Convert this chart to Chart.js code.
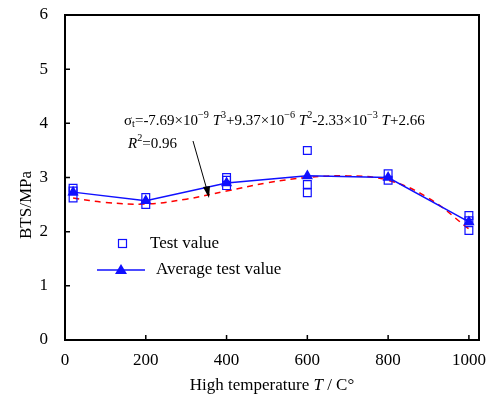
<!DOCTYPE html>
<html>
<head>
<meta charset="utf-8">
<script src="https://cdn.jsdelivr.net/npm/chart.js@4.4.1/dist/chart.umd.min.js"></script>
<style>
  body { margin: 0; background: #fff; }
  #wrap { width: 497px; height: 403px; }
</style>
</head>
<body>
<div id="wrap"><canvas id="myChart" width="497" height="403"></canvas></div>
<script>
// test values (scatter)
let testT = [20, 20, 20, 200, 200, 400, 400, 400, 600, 600, 600, 800, 800, 1000, 1000, 1000];
let testVal = [2.8, 2.75, 2.62, 2.63, 2.5, 3.0, 2.95, 2.85, 3.5, 2.87, 2.72, 3.07, 2.95, 2.3, 2.2, 2.02];

// averages
let avgT = [20, 200, 400, 600, 800, 1000];
let avgVal = [2.73, 2.57, 2.9, 3.03, 3.0, 2.18];

// fitted curve (red dashed)
let fitT = [20, 100, 200, 300, 400, 500, 600, 700, 800, 900, 1000];
let fitVal = [2.62, 2.54, 2.51, 2.6, 2.75, 2.9, 3.0, 3.03, 2.95, 2.62, 2.05];

let xTicks = [0, 200, 400, 600, 800, 1000];
let yTicks = [0, 1, 2, 3, 4, 5, 6];

const blue = '#1010ff';
const serif = "'Liberation Serif', 'DejaVu Serif', serif";

function toXY(xs, ys) {
    return xs.map((x, i) => ({ x: x, y: ys[i] }));
}

// draw text made of pieces (italic, sup, sub)
function richText(c, runs, x, y, size) {
    let cx = x;
    runs.forEach(r => {
        let s = r.sup || r.sub ? size * 0.68 : size;
        c.font = `${r.it ? 'italic ' : ''}${s}px ${serif}`;
        let dy = r.sup ? -size * 0.4 : (r.sub ? size * 0.25 : 0);
        c.fillText(r.t, cx, y + dy);
        cx += c.measureText(r.t).width;
    });
}

const extras = {
    id: 'extras',
    afterDraw(chart) {
        let c = chart.ctx;
        let a = chart.chartArea;
        let xs = chart.scales.x;
        let ys = chart.scales.y;
        c.save();
        c.strokeStyle = '#000';
        c.lineWidth = 2;
        c.strokeRect(a.left, a.top, a.right - a.left, a.bottom - a.top);

        // inward ticks
        c.lineWidth = 1.5;
        c.beginPath();
        yTicks.forEach(v => {
            let p = ys.getPixelForValue(v);
            c.moveTo(a.left, p);
            c.lineTo(a.left + 5, p);
        });
        xTicks.forEach(v => {
            let p = xs.getPixelForValue(v);
            c.moveTo(p, a.bottom);
            c.lineTo(p, a.bottom - 5);
        });
        c.stroke();

        c.fillStyle = '#000';
        c.textBaseline = 'middle';
        c.textAlign = 'left';

        // equation
        richText(c, [
            { t: 'σ' }, { t: 't', sub: true }, { t: '=-7.69×10' }, { t: '−9', sup: true },
            { t: ' ' }, { t: 'T', it: true }, { t: '3', sup: true }, { t: '+9.37×10' },
            { t: '−6', sup: true }, { t: ' ' }, { t: 'T', it: true }, { t: '2', sup: true },
            { t: '-2.33×10' }, { t: '−3', sup: true }, { t: ' ' }, { t: 'T', it: true }, { t: '+2.66' }
        ], 124, 121, 15);
        richText(c, [{ t: 'R', it: true }, { t: '2', sup: true }, { t: '=0.96' }], 128, 144, 15);

        // arrow
        c.strokeStyle = '#000';
        c.lineWidth = 1;
        c.beginPath();
        c.moveTo(193, 141);
        c.lineTo(207, 190);
        c.stroke();
        c.beginPath();
        c.moveTo(209, 198);
        c.lineTo(203, 187);
        c.lineTo(210, 186);
        c.closePath();
        c.fill();

        // legend
        c.strokeStyle = blue;
        c.lineWidth = 1.2;
        c.strokeRect(118.5, 239.5, 8, 8);
        c.font = `17px ${serif}`;
        c.fillStyle = '#000';
        c.fillText('Test value', 150, 244);
        c.strokeStyle = blue;
        c.lineWidth = 1.5;
        c.beginPath();
        c.moveTo(97, 270);
        c.lineTo(145, 270);
        c.stroke();
        c.fillStyle = blue;
        c.beginPath();
        c.moveTo(121, 264);
        c.lineTo(127, 274);
        c.lineTo(115, 274);
        c.closePath();
        c.fill();
        c.fillStyle = '#000';
        c.fillText('Average test value', 156, 270);

        // axis titles
        let title = [{ t: 'High temperature ' }, { t: 'T', it: true }, { t: ' / C°' }];
        let w = 0;
        title.forEach(r => {
            c.font = `${r.it ? 'italic ' : ''}17px ${serif}`;
            w += c.measureText(r.t).width;
        });
        c.textAlign = 'left';
        richText(c, title, 272 - w / 2, 386, 17);

        c.translate(27, 205);
        c.rotate(-Math.PI / 2);
        c.textAlign = 'center';
        c.font = `17px ${serif}`;
        c.fillText('BTS/MPa', 0, 0);
        c.restore();
    }
};

new Chart(document.getElementById('myChart'), {
    type: 'scatter',
    data: {
        datasets: [{
            label: 'Fit',
            type: 'line',
            data: toXY(fitT, fitVal),
            borderColor: '#ff0000',
            borderWidth: 1.5,
            borderDash: [6, 5],
            pointRadius: 0,
            tension: 0.4,
            fill: false,
            order: 3
        }, {
            label: 'Average test value',
            type: 'line',
            data: toXY(avgT, avgVal),
            borderColor: blue,
            backgroundColor: blue,
            borderWidth: 1.5,
            pointStyle: 'triangle',
            pointRadius: 5,
            tension: 0,
            fill: false,
            order: 2
        }, {
            label: 'Test value',
            data: toXY(testT, testVal),
            borderColor: blue,
            backgroundColor: 'rgba(0,0,0,0)',
            borderWidth: 1.2,
            pointStyle: 'rect',
            pointRadius: 5.5,
            showLine: false,
            order: 1
        }]
    },
    options: {
        responsive: false,
        animation: false,
        events: [],
        layout: { padding: { left: 0, right: 18, top: 15, bottom: 0 } },
        plugins: { legend: { display: false }, tooltip: { enabled: false } },
        scales: {
            x: {
                type: 'linear',
                min: 0,
                max: 1025,
                afterBuildTicks: s => { s.ticks = xTicks.map(v => ({ value: v })); },
                afterFit: s => { s.height = 63; s.paddingLeft = 0; s.paddingRight = 0; },
                grid: { display: false },
                border: { display: false },
                ticks: { color: '#000', padding: 2, font: { family: serif, size: 17 }, callback: v => String(v) }
            },
            y: {
                min: 0,
                max: 6,
                afterBuildTicks: s => { s.ticks = yTicks.map(v => ({ value: v })); },
                afterFit: s => { s.width = 65; s.paddingTop = 0; s.paddingBottom = 0; },
                grid: { display: false },
                border: { display: false },
                ticks: { color: '#000', padding: 9, font: { family: serif, size: 17 } }
            }
        }
    },
    plugins: [extras]
});
</script>
</body>
</html>
